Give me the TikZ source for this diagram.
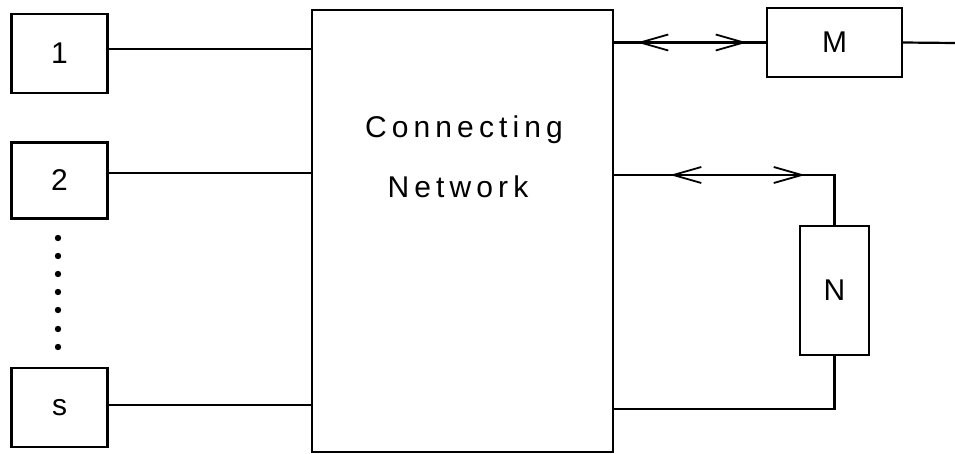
\documentclass[tikz,border=0pt]{standalone}
\usepackage{fontspec}
\setmainfont{Liberation Sans}
\newfontfamily\spacedfont[LetterSpace=17]{Liberation Sans}
\usetikzlibrary{arrows.meta,decorations.markings}
\tikzset{
  mybarb/.tip={Straight Barb[length=28pt,width=16pt,line width=1.8pt]},
  blk/.style={draw, line width=2.4pt, rectangle, inner sep=0pt, outer sep=0pt, font=\fontsize{30}{30}\selectfont},
  wire/.style={line width=2.2pt},
  twoway/.style n args={2}{postaction={decorate,decoration={markings,
      mark=at position #1pt with {\arrowreversed{mybarb}},
      mark=at position #2pt with {\arrow{mybarb}}}}}
}
\begin{document}
\begin{tikzpicture}[x=1pt,y=-1pt]
\useasboundingbox (0,0) rectangle (955,454);
% left boxes
\node[blk, minimum width=96pt, minimum height=79pt] (b1) at (59.5,53.5) {1};
\node[blk, minimum width=96pt, minimum height=76pt] (b2) at (59.5,180.5) {2};
\node[blk, minimum width=96pt, minimum height=79pt] (bs) at (59.5,407.5) {s};
% central network
\node[blk, minimum width=301pt, minimum height=442pt] (CN) at (462.5,231) {};
\node[font=\fontsize{30}{30}\spacedfont, anchor=base] (t1) at (464,138) {Connecting};
\node[font=\fontsize{30}{30}\spacedfont, anchor=base] (t2) at (458,198) {Network};
% right boxes
\node[blk, minimum width=135pt, minimum height=69pt] (M) at (834.5,42.5) {M};
\node[blk, minimum width=69pt, minimum height=129pt] (N) at (834.5,290.5) {N};
% dots
\foreach \yy in {238,256,274,292,310,329,347}
  \fill (58,\yy) circle (3.2);
% connectors from the left boxes
\draw[wire] ([yshift=4.5pt]b1.east) coordinate (l1) -- (l1 -| CN.west);
\draw[wire] ([yshift=7.5pt]b2.east) coordinate (l2) -- (l2 -| CN.west);
\draw[wire] ([yshift=2.5pt]bs.east) coordinate (ls) -- (ls -| CN.west);
% M connection
\coordinate (mo) at (955,43);
\draw[wire, twoway={24}{134}] (M.west -| CN.east) -- (M.west);
\draw[wire] (M.east) -- (mo);
% N connections
\coordinate (nc) at (834.5,175);
\coordinate (nb) at (834.5,409);
\draw[wire, twoway={57}{192}] (nc -| CN.east) -- (nc) -- (N.north);
\draw[wire] (N.south) -- (nb) -- (nb -| CN.east);
\end{tikzpicture}
\end{document}
